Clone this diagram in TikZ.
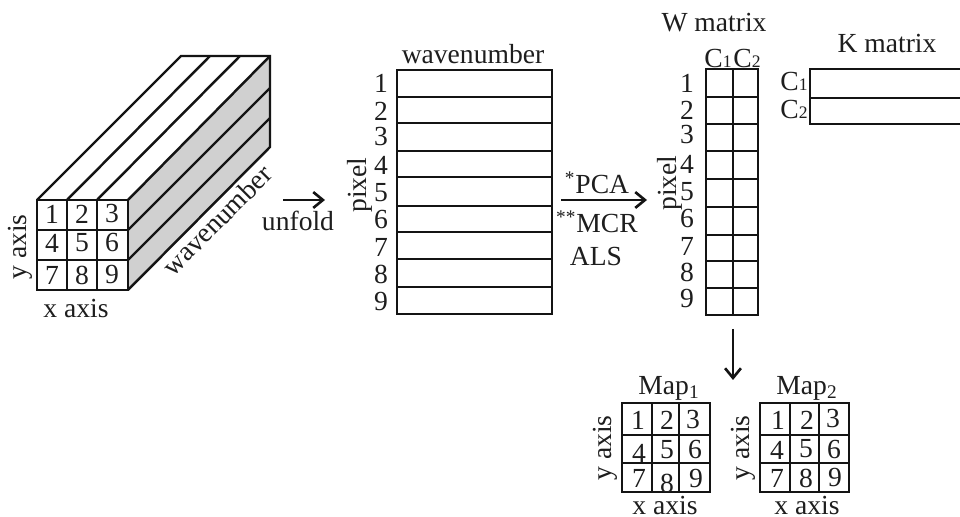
\documentclass[tikz,border=0pt]{standalone}
\usepackage{fontspec}
\setmainfont{Liberation Serif}
\usetikzlibrary{arrows.meta}
\definecolor{cubeSide}{RGB}{208,208,208}
\definecolor{gridLine}{RGB}{20,20,20}
\definecolor{labelText}{RGB}{30,30,30}
\newcommand{\lowidx}[1]{{\fontsize{10}{10}\selectfont #1}}

\begin{document}
\begin{tikzpicture}[x=1cm,y=1cm,
      label/.style={font=\fontsize{15.7}{17}\selectfont, text=labelText,
        inner sep=0pt},
      grid/.style={draw=gridLine, line width=1.4pt, line join=miter},
      flow/.style={draw=gridLine, line width=1.5pt,
        -{Straight Barb[length=5.5pt,width=9pt]}}]
      \useasboundingbox (0,0) rectangle (19.2,10.34);
      \fill[white] (0,0) rectangle (19.2,10.34);

      % Data cube seen from the front corner.
      \path[fill=cubeSide] (2.56,6.34) -- (5.40,9.22) -- (5.40,7.40) -- (2.56,4.54) -- cycle;
      \draw[grid] (.74,4.54) rectangle (2.56,6.34);
      \draw[grid] (1.34,4.54) -- (1.34,6.34);
      \draw[grid] (1.94,4.54) -- (1.94,6.34);
      \draw[grid] (.74,5.74) -- (2.56,5.74);
      \draw[grid] (.74,5.14) -- (2.56,5.14);
      \draw[grid] (.74,6.34) -- (3.62,9.22) -- (5.40,9.22) -- (5.40,7.40) -- (2.56,4.54);
      \draw[grid] (1.34,6.34) -- (4.20,9.22);
      \draw[grid] (1.94,6.34) -- (4.80,9.22);
      \draw[grid] (2.56,6.34) -- (5.40,9.22);
      \draw[grid] (2.56,5.74) -- (5.40,8.58);
      \draw[grid] (2.56,5.14) -- (5.40,7.98);
      \node[label] (cubeA) at (1.04,6.06) {1};
      \node[label] (cubeB) at (1.64,6.06) {2};
      \node[label] (cubeC) at (2.24,6.06) {3};
      \node[label] (cubeD) at (1.04,5.48) {4};
      \node[label] (cubeE) at (1.64,5.48) {5};
      \node[label] (cubeF) at (2.24,5.48) {6};
      \node[label] (cubeG) at (1.04,4.84) {7};
      \node[label] (cubeH) at (1.64,4.84) {8};
      \node[label] (cubeI) at (2.24,4.84) {9};
      \node[label, rotate=90] (cubeY) at (.40,5.40) {y axis};
      \node[label] (cubeX) at (1.52,4.16) {x axis};
      \node[label, rotate=45] (cubeDepth) at (4.34,5.94) {wavenumber};

      \coordinate (unfoldStart) at (5.66,6.34);
      \coordinate (unfoldEnd) at (6.50,6.34);
      \draw[flow] (unfoldStart) -- (unfoldEnd);
      \node[label] (unfold) at (5.96,5.92) {unfold};

      % Unfolded matrix.
      \draw[grid] (7.94,4.06) rectangle (11.04,8.94);
      \draw[grid] (7.94,8.40) -- (11.04,8.40);
      \draw[grid] (7.94,7.88) -- (11.04,7.88);
      \draw[grid] (7.94,7.32) -- (11.04,7.32);
      \draw[grid] (7.94,6.80) -- (11.04,6.80);
      \draw[grid] (7.94,6.22) -- (11.04,6.22);
      \draw[grid] (7.94,5.70) -- (11.04,5.70);
      \draw[grid] (7.94,5.16) -- (11.04,5.16);
      \draw[grid] (7.94,4.60) -- (11.04,4.60);
      \node[label] (unfoldTitle) at (9.46,9.26) {wavenumber};
      \node[label, rotate=90] (unfoldPixel) at (7.20,6.64) {pixel};
      \node[label] (rowA) at (7.62,8.68) {1};
      \node[label] (rowB) at (7.62,8.12) {2};
      \node[label] (rowC) at (7.62,7.60) {3};
      \node[label] (rowD) at (7.62,7.04) {4};
      \node[label] (rowE) at (7.62,6.48) {5};
      \node[label] (rowF) at (7.62,5.94) {6};
      \node[label] (rowG) at (7.62,5.40) {7};
      \node[label] (rowH) at (7.62,4.86) {8};
      \node[label] (rowI) at (7.62,4.30) {9};

      \coordinate (solveStart) at (11.22,6.34);
      \coordinate (solveEnd) at (12.94,6.34);
      \draw[flow] (solveStart) -- (solveEnd);
      \node[label] (pca) at (11.94,6.68) {\textsuperscript{*}PCA};
      \node[label] (mcr) at (11.94,5.90) {\textsuperscript{**}MCR};
      \node[label] (als) at (11.92,5.20) {ALS};

      % W matrix.
      \draw[grid] (14.12,4.04) rectangle (15.16,8.96);
      \draw[grid] (14.66,4.04) -- (14.66,8.96);
      \draw[grid] (14.12,8.40) -- (15.16,8.40);
      \draw[grid] (14.12,7.86) -- (15.16,7.86);
      \draw[grid] (14.12,7.32) -- (15.16,7.32);
      \draw[grid] (14.12,6.76) -- (15.16,6.76);
      \draw[grid] (14.12,6.20) -- (15.16,6.20);
      \draw[grid] (14.12,5.64) -- (15.16,5.64);
      \draw[grid] (14.12,5.12) -- (15.16,5.12);
      \draw[grid] (14.12,4.58) -- (15.16,4.58);
      \node[label] (wTitle) at (14.28,9.88) {W matrix};
      \node[label] (wColA) at (14.36,9.16) {C\lowidx{1}};
      \node[label] (wColB) at (14.94,9.16) {C\lowidx{2}};
      \node[label, rotate=90] (wPixel) at (13.40,6.68) {pixel};
      \node[label] (wRowA) at (13.74,8.68) {1};
      \node[label] (wRowB) at (13.74,8.14) {2};
      \node[label] (wRowC) at (13.74,7.64) {3};
      \node[label] (wRowD) at (13.74,7.06) {4};
      \node[label] (wRowE) at (13.74,6.50) {5};
      \node[label] (wRowF) at (13.74,5.96) {6};
      \node[label] (wRowG) at (13.74,5.42) {7};
      \node[label] (wRowH) at (13.74,4.90) {8};
      \node[label] (wRowI) at (13.74,4.36) {9};

      % K matrix, running off the right edge.
      \draw[grid] (19.2,8.96) -- (16.20,8.96) -- (16.20,7.86) -- (19.2,7.86);
      \draw[grid] (16.20,8.38) -- (19.2,8.38);
      \node[label] (kTitle) at (17.74,9.46) {K matrix};
      \node[label] (kRowA) at (15.88,8.70) {C\lowidx{1}};
      \node[label] (kRowB) at (15.88,8.14) {C\lowidx{2}};

      \coordinate (mapStart) at (14.66,3.76);
      \coordinate (mapEnd) at (14.66,2.74);
      \draw[flow] (mapStart) -- (mapEnd);

      % Map 1.
      \draw[grid] (12.44,.50) rectangle (14.20,2.28);
      \draw[grid] (13.04,.50) -- (13.04,2.28);
      \draw[grid] (13.58,.50) -- (13.58,2.28);
      \draw[grid] (12.44,1.64) -- (14.20,1.64);
      \draw[grid] (12.44,1.08) -- (14.20,1.08);
      \node[label] (mapOneTitle) at (13.38,2.58) {Map\textsubscript{1}};
      \node[label] (mapOneA) at (12.76,1.94) {1};
      \node[label] (mapOneB) at (13.34,1.94) {2};
      \node[label] (mapOneC) at (13.86,1.94) {3};
      \node[label] (mapOneD) at (12.78,1.28) {4};
      \node[label] (mapOneE) at (13.34,1.34) {5};
      \node[label] (mapOneF) at (13.90,1.34) {6};
      \node[label] (mapOneG) at (12.78,.78) {7};
      \node[label] (mapOneH) at (13.34,.68) {8};
      \node[label] (mapOneI) at (13.92,.76) {9};
      \node[label, rotate=90] (mapOneY) at (12.10,1.38) {y axis};
      \node[label] (mapOneX) at (13.30,.22) {x axis};

      % Map 2.
      \draw[grid] (15.20,.50) rectangle (16.98,2.28);
      \draw[grid] (15.80,.50) -- (15.80,2.28);
      \draw[grid] (16.38,.50) -- (16.38,2.28);
      \draw[grid] (15.20,1.64) -- (16.98,1.64);
      \draw[grid] (15.20,1.08) -- (16.98,1.08);
      \node[label] (mapTwoTitle) at (16.14,2.58) {Map\textsubscript{2}};
      \node[label] (mapTwoA) at (15.56,1.94) {1};
      \node[label] (mapTwoB) at (16.14,1.94) {2};
      \node[label] (mapTwoC) at (16.66,1.96) {3};
      \node[label] (mapTwoD) at (15.54,1.34) {4};
      \node[label] (mapTwoE) at (16.12,1.36) {5};
      \node[label] (mapTwoF) at (16.68,1.34) {6};
      \node[label] (mapTwoG) at (15.54,.78) {7};
      \node[label] (mapTwoH) at (16.12,.78) {8};
      \node[label] (mapTwoI) at (16.70,.78) {9};
      \node[label, rotate=90] (mapTwoY) at (14.86,1.38) {y axis};
      \node[label] (mapTwoX) at (16.14,.22) {x axis};
    \end{tikzpicture}
\end{document}
